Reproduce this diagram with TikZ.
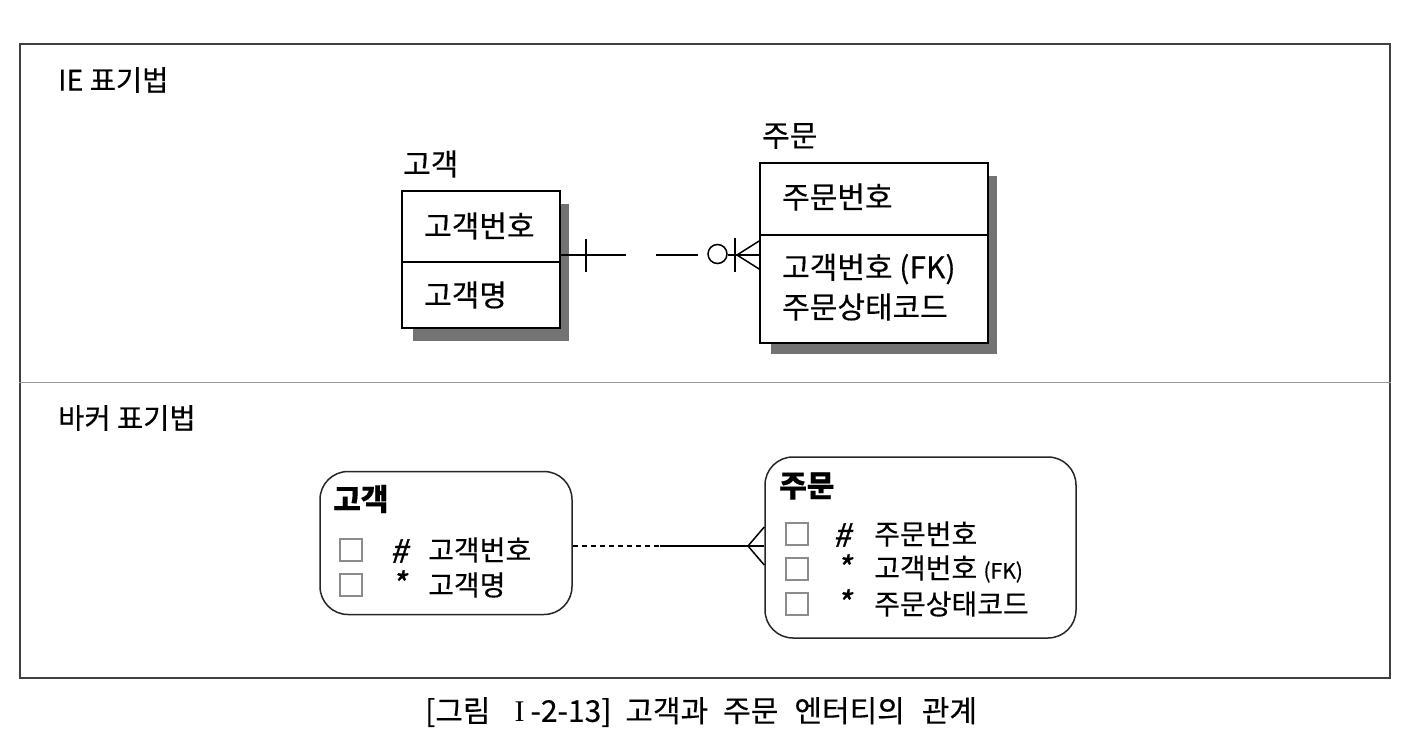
\documentclass[tikz,border=0pt]{standalone}
\usepackage{fontspec}
\setmainfont[FakeBold=0.3]{Noto Sans CJK KR}
\newfontfamily\hashfont[FakeSlant=0.2,FakeBold=1]{Noto Sans CJK KR}
\newfontfamily\romanI{Liberation Serif}
\usetikzlibrary{backgrounds}
\begin{document}
\begin{tikzpicture}[x=1pt,y=-1pt,
  lbl/.style={anchor=west,inner sep=0pt,font=\fontsize{30}{34}\selectfont},
  sec/.style={anchor=west,inner sep=0pt,font=\fontsize{28.5}{32}\selectfont},
  sml/.style={anchor=west,inner sep=0pt,font=\fontsize{28}{32}\selectfont},
  symb/.style={anchor=west,inner sep=0pt,font=\fontsize{32}{34}\hashfont},
  iebox/.style={draw=black,fill=white,line width=1.8pt,inner sep=0pt},
  bbox/.style={draw=black!85,fill=white,line width=1.5pt,rounded corners=28pt,inner sep=0pt},
  chk/.style={draw=black!45,line width=1.2pt,minimum width=22pt,minimum height=22pt,inner sep=0pt},
  shade/.style={fill=black!55},
  rel/.style={line width=1.8pt}]
\useasboundingbox (0,0) rectangle (1408,736);
% frame
\node[draw=black!75,line width=2pt,minimum width=1370pt,minimum height=634pt,inner sep=0pt] (frame) at (705,361) {};
\draw[black!40,line width=1pt] (frame.west |- 0,382) -- (frame.east |- 0,382);
\node[sec] (t1) at (58,80) {IE 표기법};
\node[sec] (t2) at (58,418) {바커 표기법};
% IE entities
\node[iebox,minimum width=158pt,minimum height=137pt] (k1) at (481,259.5) {};
\node[iebox,minimum width=228pt,minimum height=180pt] (j1) at (874,253) {};
\begin{scope}[on background layer]
  \fill[shade] ([shift={(12,0)}]k1.south west) rectangle ([shift={(8,12)}]k1.south east);
  \fill[shade] ([shift={(0,14)}]k1.north east) rectangle ([shift={(8,12)}]k1.south east);
  \fill[shade] ([shift={(12,0)}]j1.south west) rectangle ([shift={(8,10)}]j1.south east);
  \fill[shade] ([shift={(0,14)}]j1.north east) rectangle ([shift={(8,10)}]j1.south east);
\end{scope}
\draw[line width=1.8pt] (k1.west |- 0,262) -- (k1.east |- 0,262);
\draw[line width=1.8pt] (j1.west |- 0,235) -- (j1.east |- 0,235);
\node[lbl] (k1t) at (403,164) {고객};
\node[lbl] (k1a) at (424,226) {고객번호};
\node[lbl] (k1b) at (424,295) {고객명};
\node[lbl] (j1t) at (762,136) {주문};
\node[lbl] (j1a) at (782,197) {주문번호};
\node[lbl] (j1b) at (782,269) {고객번호 (FK)};
\node[lbl] (j1c) at (782,307) {주문상태코드};
% IE relationship
\draw[rel,dash pattern=on 65pt off 30pt on 42pt off 30pt on 40pt] (k1.east |- 0,255) -- (j1.west |- 0,255);
\draw[rel] (586,239) -- (586,272);
\draw[line width=1.5pt] (717.5,254) circle (9.5);
\draw[rel] (735,238) -- (735,272);
\draw[line width=1.5pt] (j1.west |- 0,241) -- (737,255) -- (j1.west |- 0,269);
% Barker entities
\node[bbox,minimum width=252pt,minimum height=143pt] (b1) at (446,543) {};
\node[bbox,minimum width=311pt,minimum height=181pt] (b2) at (920.5,547.5) {};
\node[lbl,font=\fontsize{30}{34}\selectfont\bfseries] (b1t) at (333,499) {고객};
\node[chk] (c11) at (351,550) {};
\node[chk] (c12) at (351,585) {};
\node[symb] (h11) at (390,551) {\#};
\node[symb] (h12) at (391,583) {*};
\node[sml] (b1a) at (428,550) {고객번호};
\node[sml] (b1b) at (428,585) {고객명};
\node[lbl,font=\fontsize{30}{34}\selectfont\bfseries] (b2t) at (779,486) {주문};
\node[chk] (c21) at (797,534) {};
\node[chk] (c22) at (797,569) {};
\node[chk] (c23) at (797,604) {};
\node[symb] (h21) at (833,535) {\#};
\node[symb] (h22) at (836,567) {*};
\node[symb] (h23) at (836,602) {*};
\node[sml] (b2a) at (874,534) {주문번호};
\node[sml] (b2b) at (874,569) {고객번호 {\fontsize{21}{24}\selectfont (FK)}};
\node[sml] (b2c) at (874,604) {주문상태코드};
% Barker relationship
\coordinate (bm) at (660,546);
\draw[line width=1.8pt,dash pattern=on 5pt off 4pt] (b1.east |- 0,546) -- (bm);
\draw[line width=1.8pt] (bm) -- (b2.west |- 0,546);
\draw[line width=1.5pt] (b2.west |- 0,527) -- (748,546) -- (b2.west |- 0,565);
% caption
\node[anchor=west,inner sep=0pt,font=\fontsize{30}{34}\selectfont] (cap) at (425,712) {[그림\hspace{24pt}{\romanI I}\hspace{6pt}-2-13]\hspace{14pt}고객과\hspace{15pt}주문\hspace{16pt}엔터티의\hspace{17pt}관계};
\end{tikzpicture}
\end{document}
